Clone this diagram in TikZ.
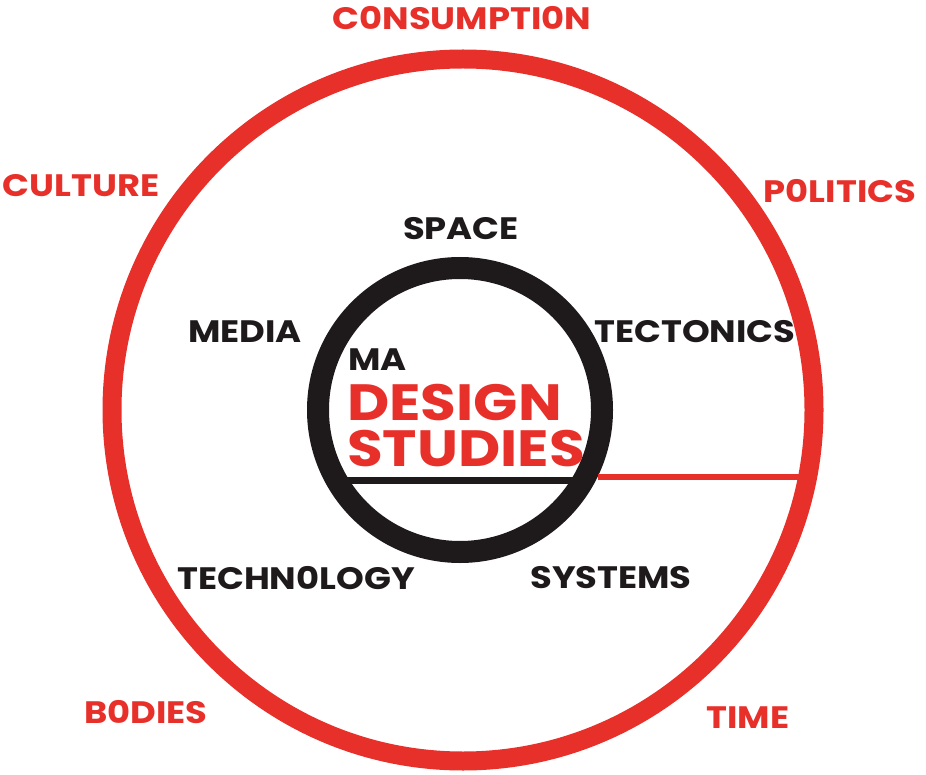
\documentclass[tikz,border=0pt]{standalone}
\usepackage{fontspec}
\setmainfont{Poppins}[FakeStretch=1.14]
\usetikzlibrary{positioning}
\definecolor{ringred}{HTML}{E8302A}
\definecolor{inkblack}{HTML}{1E1A1B}

\begin{document}
\begin{tikzpicture}[x=1pt,y=-1pt,
    outer label/.style={text=ringred,font=\bfseries\fontsize{31}{31}\selectfont,inner sep=0pt},
    inner label/.style={text=inkblack,font=\bfseries\fontsize{31}{31}\selectfont,inner sep=0pt},
    title/.style={text=ringred,font=\bfseries\fontsize{51}{46}\selectfont,inner sep=0pt,anchor=west,align=left}]
  \useasboundingbox (0,0) rectangle (926,775);

  % the two rings
  \node[circle,draw=ringred,line width=19pt,minimum size=702pt] (ring) at (463,410) {};
  \node[circle,draw=inkblack,line width=22pt,minimum size=284pt] (core) at (460,410) {};

  % centre title
  \node[inner label,anchor=west] (ma)    at (348,360)   {MA};
  \node[title]                   (title) at (347,425.5) {DESIGN\\STUDIES};

  % inner themes
  \node[inner label] (space)      at (461,229) {SPACE};
  \node[inner label] (media)      at (245,332) {MEDIA};
  \node[inner label] (tectonics)  at (695,332) {TECTONICS};
  \node[inner label] (technology) at (296,578) {TECHN0LOGY};
  \node[inner label] (systems)    at (611,578) {SYSTEMS};

  % outer themes
  \node[outer label] (consumption) at (462,18)  {C0NSUMPTI0N};
  \node[outer label] (culture)     at (81,186)  {CULTURE};
  \node[outer label] (politics)    at (840,191) {P0LITICS};
  \node[outer label] (bodies)      at (146,712) {B0DIES};
  \node[outer label] (time)        at (748,718) {TIME};

  % rules
  \draw[ringred,line width=6pt] (core.-26.4) -- ([xshift=-20pt]core.-26.4 -| ring.east);
  \draw[inkblack,line width=7pt] ([yshift=-13pt]title.south west) -- ([yshift=-13pt]title.south east);
\end{tikzpicture}
\end{document}
